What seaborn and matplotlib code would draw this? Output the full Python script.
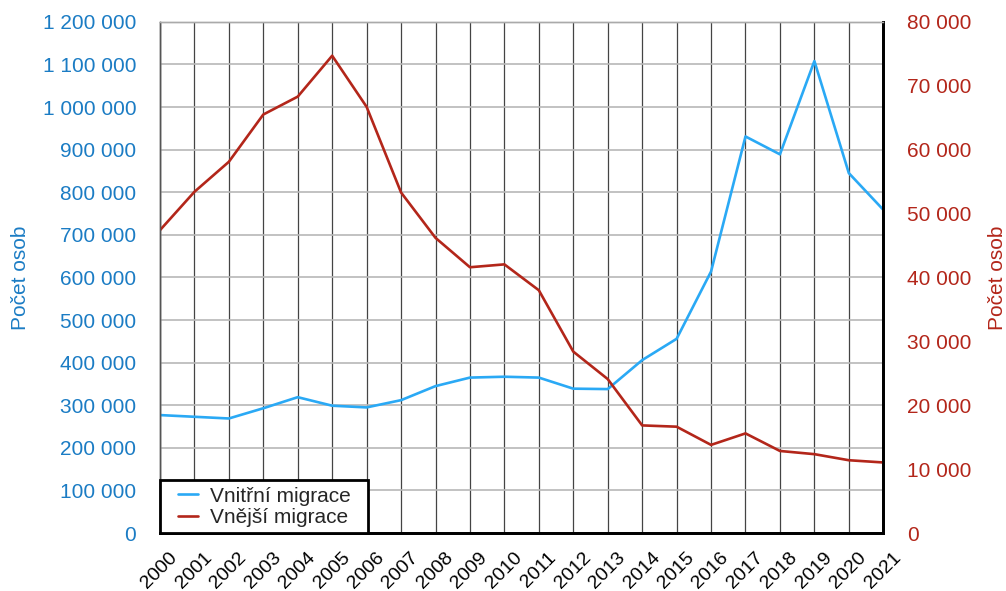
import pandas as pd
import matplotlib
matplotlib.use('Agg')
import matplotlib.pyplot as plt
import matplotlib.transforms as mtransforms
from matplotlib.lines import Line2D
from matplotlib.legend_handler import HandlerLine2D
import seaborn as sns

years = list(range(2000, 2022))
vnitrni = [277000, 273000, 269000, 293000, 319000, 299000, 295000, 312000, 345000, 365000, 367000,
           365000, 339000, 338000, 406000, 456000, 614000, 931000, 889000, 1108000, 845000, 759000]
vnejsi = [47400, 53400, 58100, 65500, 68300, 74700, 66700, 53300, 46200, 41600, 42050,
          38000, 28400, 24100, 16850, 16650, 13800, 15600, 12850, 12350, 11400, 11050]

df = pd.DataFrame({'rok': years, 'vnitrni': vnitrni, 'vnejsi': vnejsi})

sns.set_style('white')
plt.rcParams['font.family'] = ['Liberation Sans', 'DejaVu Sans']
plt.rcParams['font.size'] = 15

blue_line = '#2aa9f5'
blue_text = '#1b7cc4'
red_line = '#b3261a'
red_text = '#b3261a'

fig = plt.figure(figsize=(10.06, 5.91), dpi=100)
ax = fig.add_axes([0.159, 0.098, 0.719, 0.865])
ax2 = ax.twinx()

sns.lineplot(data=df, x='rok', y='vnitrni', ax=ax, color=blue_line, linewidth=1.9, label='Vnitřní migrace', legend=False)
sns.lineplot(data=df, x='rok', y='vnejsi', ax=ax2, color=red_line, linewidth=1.9, label='Vnější migrace', legend=False)

fmt = plt.FuncFormatter(lambda v, loc: "{:,}".format(int(v)).replace(",", " "))

ax.set_xlim(2000, 2021)
ax.set_xticks(years)
ax.set_xticklabels([str(y) for y in years], rotation=45, ha='right', rotation_mode='anchor')
ax.set_ylim(0, 1200000)
ax.set_yticks(range(0, 1200001, 100000))
ax.yaxis.set_major_formatter(fmt)
ax2.set_ylim(0, 80000)
ax2.set_yticks(range(0, 80001, 10000))
ax2.yaxis.set_major_formatter(fmt)

ax.grid(axis='x', color='#444444', linewidth=0.9)
ax.grid(axis='y', color='#b8b8b8', linewidth=1.2)
ax.set_axisbelow(True)

ax.tick_params(axis='y', colors=blue_text, length=0, pad=17, labelsize=15)
ax.tick_params(axis='x', colors='black', direction='in', length=4, width=1.5, pad=6, labelsize=14)
ax2.tick_params(axis='y', colors=red_text, length=0, pad=17, labelsize=15)

# shift the rotated year labels a bit right and down (after tick_params, which resets transforms)
shift = mtransforms.ScaledTranslation(9 / 100, -8 / 100, fig.dpi_scale_trans)
for lbl in ax.get_xticklabels():
    lbl.set_transform(lbl.get_transform() + shift)

ax.set_xlabel('')
ax.set_ylabel('Počet osob', color=blue_text, fontsize=15, labelpad=9)
ax2.set_ylabel('Počet osob', color=red_text, fontsize=15, labelpad=12)

for a in (ax, ax2):
    a.spines['left'].set_color('#555555')
    a.spines['left'].set_linewidth(1)
    a.spines['top'].set_color('#aaaaaa')
    a.spines['top'].set_linewidth(1)
    a.spines['bottom'].set_color('black')
    a.spines['bottom'].set_linewidth(2)
    a.spines['right'].set_color('black')
    a.spines['right'].set_linewidth(2)

h1, l1 = ax.get_legend_handles_labels()
h2, l2 = ax2.get_legend_handles_labels()
leg = ax2.legend(h1 + h2, [t + '  ' for t in l1 + l2], loc='lower left', borderaxespad=0, fancybox=False,
                 framealpha=1, edgecolor='black', fontsize=15, handlelength=1.52,
                 borderpad=0.3, labelspacing=0.1, handletextpad=0.58,
                 handler_map={Line2D: HandlerLine2D(xpad=0.58)})
leg.get_frame().set_linewidth(2)

fig.savefig('out.png', dpi=100)
